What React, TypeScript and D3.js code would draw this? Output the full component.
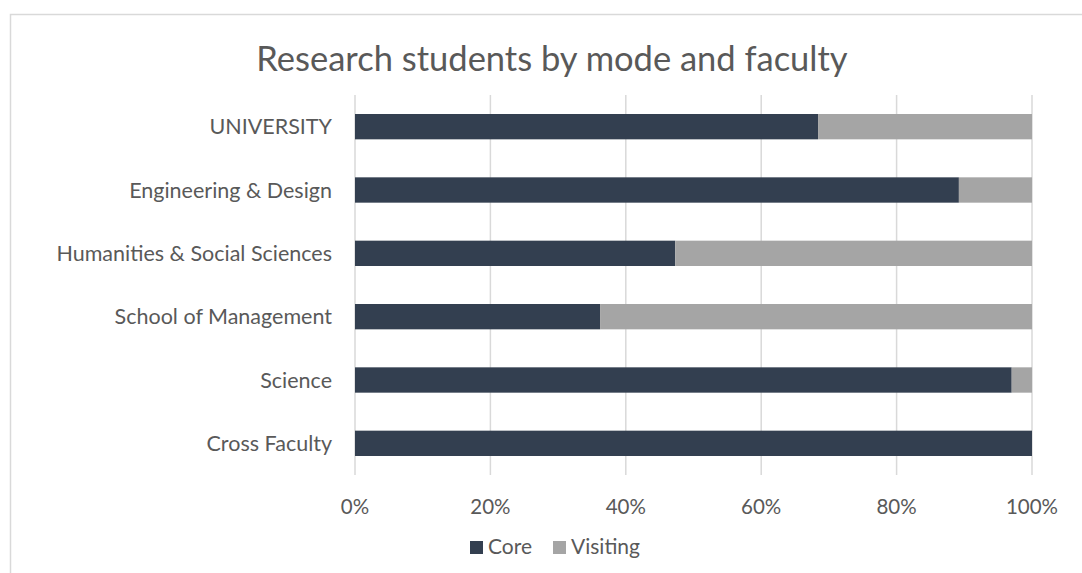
import React from "react";
import * as d3 from "d3";

const width = 1082;
const height = 573;

const faculties = [
  "UNIVERSITY",
  "Engineering & Design",
  "Humanities & Social Sciences",
  "School of Management",
  "Science",
  "Cross Faculty",
];
const corePct = [68.4, 89.2, 47.3, 36.2, 97.0, 100];
const visitingPct = [31.6, 10.8, 52.7, 63.8, 3.0, 0];
const xTicks = [0, 20, 40, 60, 80, 100];

const seriesNames = ["Core", "Visiting"];
const colors = ["#333F50", "#A5A5A5"];
const textColor = "#595959";
const font = "Lato, 'Open Sans', sans-serif";

const margin = { top: 95, right: 50, bottom: 98, left: 355 };

const App: React.FC = () => {
  const x = d3
    .scaleLinear()
    .domain([0, 100])
    .range([margin.left, width - margin.right]);

  const y = d3
    .scaleBand<string>()
    .domain(faculties)
    .range([margin.top, height - margin.bottom])
    .paddingInner(0.6)
    .paddingOuter(0.3);

  const rows = faculties.map((f, i) => ({ f, vals: [corePct[i], visitingPct[i]] }));
  const stacked = d3.stack<{ f: string; vals: number[] }, number>()
    .keys([0, 1])
    .value((d, k) => d.vals[k])(rows);

  return (
    <svg
      width={width}
      height={height}
      style={{ position: "absolute", left: 0, top: 0, background: "#fff" }}
      fontFamily={font}
    >
      <rect x={10.5} y={14.5} width={width} height={height} fill="#fff" stroke="#D9D9D9" strokeWidth={1.5} />

      <text x={552} y={71} textAnchor="middle" fontSize={34.5} fill={textColor}>
        Research students by mode and faculty
      </text>

      {xTicks.map((t) => (
        <line
          key={t}
          x1={x(t)}
          x2={x(t)}
          y1={margin.top}
          y2={height - margin.bottom}
          stroke="#D9D9D9"
          strokeWidth={1.5}
        />
      ))}

      {stacked.map((s, si) =>
        s.map((d, i) => (
          <rect
            key={`${si}-${i}`}
            x={x(d[0])}
            y={y(faculties[i])}
            width={Math.max(0, x(d[1]) - x(d[0]))}
            height={y.bandwidth()}
            fill={colors[si]}
          />
        ))
      )}

      {faculties.map((f) => (
        <text
          key={f}
          x={margin.left - 23}
          y={y(f)! + y.bandwidth() / 2}
          dy="0.35em"
          textAnchor="end"
          fontSize={21.5}
          fill={textColor}
        >
          {f}
        </text>
      ))}

      {xTicks.map((t) => (
        <text key={t} x={x(t)} y={514} textAnchor="middle" fontSize={20.5} fill={textColor}>
          {`${t}%`}
        </text>
      ))}

      {seriesNames.map((n, i) => {
        const lx = i === 0 ? 470 : 553;
        return (
          <g key={n}>
            <rect x={lx} y={541} width={13} height={13} fill={colors[i]} />
            <text x={lx + 18} y={554} fontSize={21} fill={textColor}>
              {n}
            </text>
          </g>
        );
      })}
    </svg>
  );
};

export default App;
